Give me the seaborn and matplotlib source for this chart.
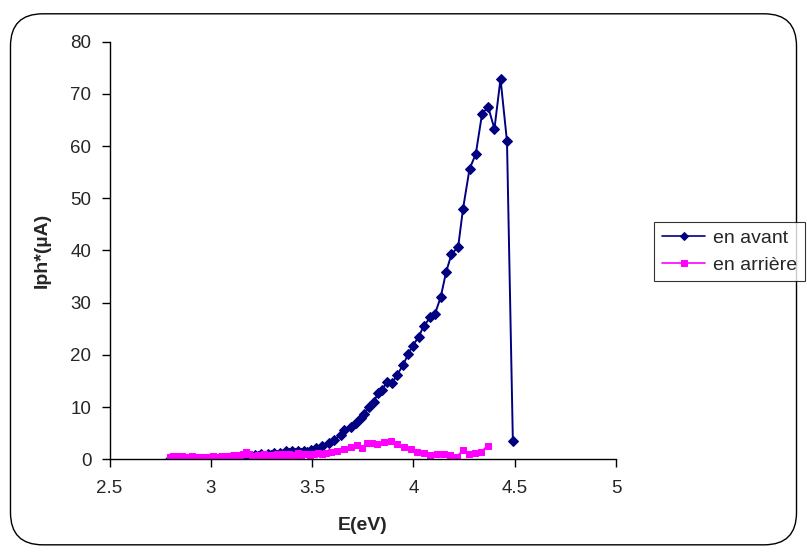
import matplotlib
matplotlib.use("Agg")
import matplotlib.pyplot as plt
import seaborn as sns
import pandas as pd
from matplotlib.patches import FancyBboxPatch

# ---- data ----
e_avant = [2.80, 2.815, 2.83, 2.845, 2.86, 2.875, 2.89, 2.905, 2.92, 2.935, 2.95, 2.965,
           2.98, 2.995, 3.01, 3.025, 3.04, 3.055, 3.07, 3.085, 3.10, 3.115, 3.13, 3.145,
           3.16, 3.175, 3.19, 3.205, 3.22, 3.235, 3.25, 3.265, 3.28, 3.295, 3.31, 3.325,
           3.34, 3.355, 3.37, 3.385, 3.40, 3.415, 3.43, 3.445, 3.46, 3.475, 3.494, 3.518,
           3.548, 3.582, 3.607, 3.642, 3.656, 3.691, 3.716, 3.740, 3.755, 3.780, 3.805,
           3.825, 3.845, 3.870, 3.895, 3.920, 3.948, 3.974, 3.997, 4.027, 4.050, 4.084,
           4.106, 4.135, 4.161, 4.188, 4.221, 4.245, 4.277, 4.308, 4.339, 4.369, 4.400,
           4.430, 4.462, 4.491]
i_avant = [0.1, -0.1, 0.2, 0.0, -0.2, 0.1, 0.0, -0.1, 0.1, -0.2, 0.0, -0.1,
           0.1, -0.1, 0.2, 0.0, 0.3, 0.1, 0.3, 0.0, 0.4, 0.3, 0.5, 0.2,
           0.6, 0.4, 0.7, 0.5, 0.9, 0.7, 1.0, 0.6, 1.1, 0.9, 1.2, 0.8,
           1.3, 1.1, 1.5, 1.2, 1.6, 1.3, 1.5, 1.2, 1.6, 1.4, 1.8, 2.2,
           2.5, 3.1, 3.7, 4.7, 5.6, 6.2, 6.9, 7.9, 8.7, 10.0, 11.0,
           12.7, 13.2, 14.9, 14.6, 16.2, 18.0, 20.1, 21.8, 23.5, 25.5, 27.2,
           27.8, 31.1, 35.8, 39.3, 40.7, 48.0, 55.6, 58.5, 66.2, 67.5, 63.3,
           72.9, 60.9, 3.5]

e_arriere = [2.80, 2.815, 2.83, 2.845, 2.86, 2.875, 2.89, 2.905, 2.92, 2.935, 2.95, 2.965,
             2.98, 2.995, 3.01, 3.025, 3.04, 3.055, 3.07, 3.085, 3.10, 3.115, 3.13, 3.145,
             3.16, 3.175, 3.19, 3.205, 3.22, 3.235, 3.25, 3.265, 3.28, 3.295, 3.31, 3.325,
             3.34, 3.355, 3.37, 3.385, 3.40, 3.415, 3.43, 3.445, 3.46, 3.475, 3.49, 3.51,
             3.53, 3.55, 3.57, 3.591, 3.622, 3.656, 3.690, 3.721, 3.745, 3.770, 3.795,
             3.819, 3.854, 3.887, 3.920, 3.953, 3.986, 4.018, 4.051, 4.084, 4.117, 4.150,
             4.183, 4.216, 4.245, 4.273, 4.303, 4.336, 4.366]
i_arriere = [0.5, 0.7, 0.6, 0.5, 0.6, 0.4, 0.5, 0.6, 0.4, 0.5, 0.3, 0.4,
             0.5, 0.4, 0.6, 0.5, 0.4, 0.6, 0.5, 0.7, 0.6, 0.8, 0.7, 0.9,
             1.1, 1.4, 1.0, 0.6, 0.5, 0.8, 0.7, 1.0, 0.6, 0.8, 0.9, 1.1,
             0.9, 1.0, 0.7, 1.0, 0.8, 0.9, 1.2, 0.9, 1.0, 1.1, 0.9, 1.0,
             1.2, 1.0, 1.3, 1.34, 1.58, 1.91, 2.41, 2.74, 2.11, 3.20, 3.20,
             2.95, 3.39, 3.52, 2.95, 2.30, 1.97, 1.46, 1.26, 0.82, 0.96, 0.96,
             0.82, 0.50, 1.78, 0.96, 1.26, 1.46, 2.55]

x_ticks = [2.5, 3, 3.5, 4, 4.5, 5]
x_tick_labels = ["2.5", "3", "3.5", "4", "4.5", "5"]
y_ticks = [0, 10, 20, 30, 40, 50, 60, 70, 80]

df_avant = pd.DataFrame({"E": e_avant, "I": i_avant})
df_arriere = pd.DataFrame({"E": e_arriere, "I": i_arriere})

# ---- style ----
sns.set_style("white")
plt.rcParams["font.family"] = ["Liberation Sans", "DejaVu Sans"]

fig = plt.figure(figsize=(8.07, 5.52), dpi=100)
ax = fig.add_axes([0.1357, 0.1679, 0.7633 - 0.1357, 0.9245 - 0.1679])

sns.lineplot(data=df_avant, x="E", y="I", ax=ax, sort=False, estimator=None,
             color="#000080", linewidth=1.4, marker="D", markersize=5,
             markeredgecolor="#000080", label="en avant")
sns.lineplot(data=df_arriere, x="E", y="I", ax=ax, sort=False, estimator=None,
             color="#FF00FF", linewidth=1.4, marker="s", markersize=5,
             markeredgecolor="#FF00FF", label="en arrière")

ax.set_xlim(2.5, 5)
ax.set_ylim(0, 80)
ax.set_xticks(x_ticks)
ax.set_xticklabels(x_tick_labels)
ax.set_yticks(y_ticks)
ax.tick_params(axis="both", direction="out", length=6, width=1, color="black",
               labelsize=13.5, pad=7, bottom=True, left=True)
ax.tick_params(axis="x", pad=9)
for s in ["top", "right"]:
    ax.spines[s].set_visible(False)
for s in ["left", "bottom"]:
    ax.spines[s].set_color("black")
    ax.spines[s].set_linewidth(1)
ax.grid(False)

ax.set_xlabel("E(eV)", fontsize=14, fontweight="bold", labelpad=14)
ax.set_ylabel("Iph*(µA)", fontsize=14, fontweight="bold", labelpad=14)

handles, labels = ax.get_legend_handles_labels()
ax.get_legend().remove()
leg = fig.legend(handles, labels, loc="upper left", bbox_to_anchor=(0.811, 0.598),
                 frameon=True, fancybox=False, shadow=False, fontsize=14,
                 handlelength=2.2, handletextpad=0.4, borderpad=0.4,
                 labelspacing=0.45, borderaxespad=0)
leg.get_frame().set_edgecolor("black")
leg.get_frame().set_linewidth(0.8)
for h in leg.legend_handles:
    h.set_markersize(4)
    h.set_linewidth(1.2)

# rounded border of the chart area
border = FancyBboxPatch((0.013, 0.013), 0.974, 0.962,
                        boxstyle="round,pad=0,rounding_size=0.04",
                        transform=fig.transFigure, fill=False,
                        edgecolor="black", linewidth=1, zorder=0,
                        mutation_aspect=807 / 552)
fig.patches.append(border)

fig.savefig("out.png", dpi=100)
